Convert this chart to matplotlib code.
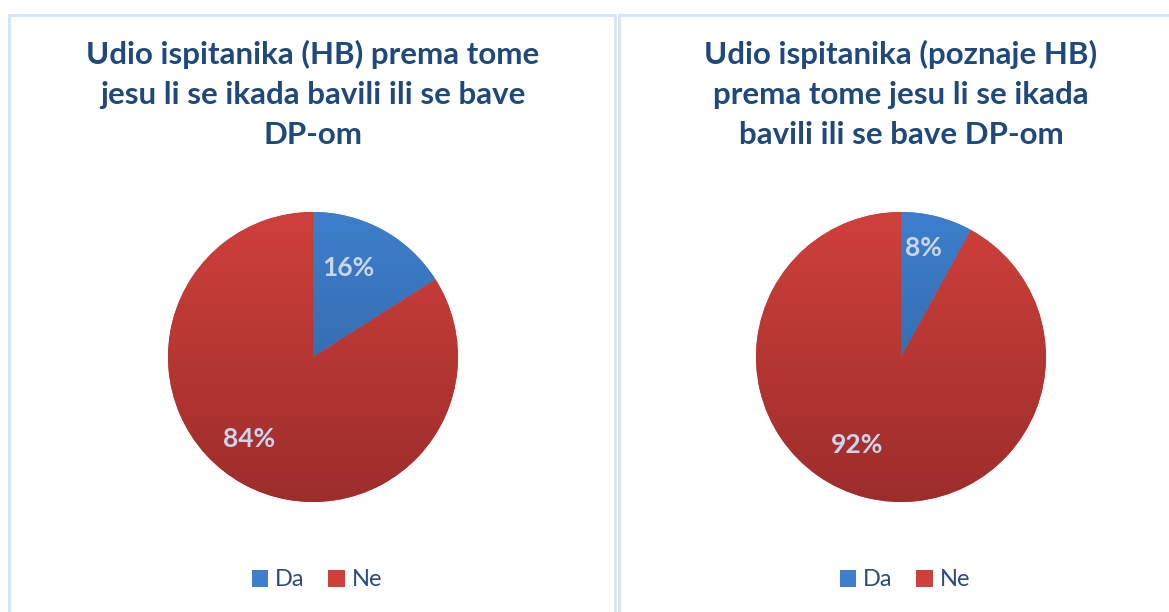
import matplotlib.pyplot as plt
import numpy as np
from matplotlib.patches import Rectangle, Patch
from matplotlib.colors import LinearSegmentedColormap

plt.rcParams['font.family'] = ['Lato', 'DejaVu Sans']

# data
labels = ['Da', 'Ne']
vals_hb = [16, 84]
vals_poz = [8, 92]
titles = ['Udio ispitanika (HB) prema tome\njesu li se ikada bavili ili se bave\nDP-om',
          'Udio ispitanika (poznaje HB)\nprema tome jesu li se ikada\nbavili ili se bave DP-om']

W, H = 1169, 612
fig = plt.figure(figsize=(W / 100, H / 100), dpi=100)

title_col = '#1F497D'
lbl_col = '#C9D6EC'
# gradient top -> bottom
grads = [('#3D7FCC', '#2F5D98'), ('#CF403B', '#9C2D2B')]

# panel frames
for x0, x1 in [(9, 615), (619, 1175)]:
    fig.add_artist(Rectangle((x0 / W, -0.05), (x1 - x0) / W, (H - 15) / H + 0.05,
                             transform=fig.transFigure, fill=False,
                             edgecolor='#D5E3F2', lw=2))


def draw_pie(cx, cy, r, vals, title, lbl_pos):
    ax = fig.add_axes([(cx - r) / W, (H - cy - r) / H, 2 * r / W, 2 * r / H])
    wedges, _ = ax.pie(vals, startangle=90, counterclock=False,
                       colors=[g[0] for g in grads], radius=1,
                       wedgeprops=dict(linewidth=0))
    for w, g, v, (d, shift) in zip(wedges, grads, vals, lbl_pos):
        cmap = LinearSegmentedColormap.from_list('g', [g[1], g[0]])
        grad = np.linspace(0, 1, 256).reshape(-1, 1)
        im = ax.imshow(grad, cmap=cmap, extent=[-1, 1, -1, 1], origin='lower',
                       aspect='auto', zorder=2)
        im.set_clip_path(w)
        ang = np.deg2rad((w.theta1 + w.theta2) / 2 + shift)
        ax.text(d * np.cos(ang), d * np.sin(ang), f'{v}%', ha='center', va='center',
                color=lbl_col, fontsize=19, fontweight='bold', zorder=3)
    ax.set_xlim(-1, 1)
    ax.set_ylim(-1, 1)
    ax.axis('off')
    fig.text(cx / W, 1 - 40 / H, title, ha='center', va='top', fontsize=22.5,
             fontweight='bold', color=title_col, linespacing=1.52)
    handles = [Patch(facecolor=g[0], edgecolor='none') for g in grads]
    fig.legend(handles, labels, loc='center', bbox_to_anchor=((cx + 4) / W, 1 - 580 / H),
               ncol=2, frameon=False, fontsize=17, handlelength=0.7, handleheight=0.7,
               handletextpad=0.3, columnspacing=1.0, labelcolor='#2B4C7E')


draw_pie(313, 357, 145, vals_hb, titles[0], [(0.66, 7), (0.72, -9)])
draw_pie(901, 357, 145, vals_poz, titles[1], [(0.77, 3), (0.68, -12)])

fig.savefig('out.png', dpi=100)
